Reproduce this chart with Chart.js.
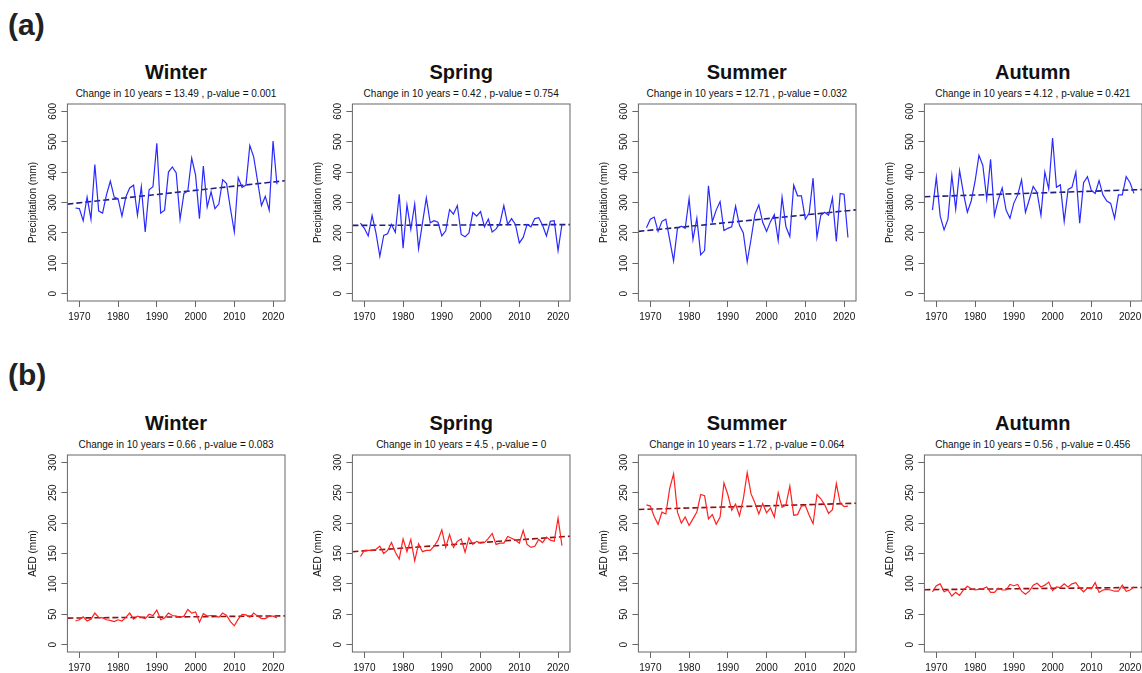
<!DOCTYPE html>
<html>
<head>
<meta charset="utf-8">
<script src="https://cdn.jsdelivr.net/npm/chart.js@4.4.1/dist/chart.umd.min.js"></script>
<style>
html, body { margin: 0; padding: 0; width: 1142px; height: 673px; overflow: hidden; background: #fff; }
body { position: relative; font-family: "Liberation Sans", Arial, sans-serif; color: #111; }
.lbl { position: absolute; font-weight: bold; font-size: 30px; line-height: 34px; color: #222; }
.ttl { position: absolute; text-align: center; font-weight: bold; font-size: 20px; line-height: 24px; }
.sub { position: absolute; text-align: center; font-size: 10px; line-height: 12px; white-space: nowrap; }
canvas { position: absolute; }
</style>
</head>
<body>
<script>
// years and values
const years = [1969, 1970, 1971, 1972, 1973, 1974, 1975, 1976, 1977, 1978, 1979,
  1980, 1981, 1982, 1983, 1984, 1985, 1986, 1987, 1988, 1989,
  1990, 1991, 1992, 1993, 1994, 1995, 1996, 1997, 1998, 1999,
  2000, 2001, 2002, 2003, 2004, 2005, 2006, 2007, 2008, 2009,
  2010, 2011, 2012, 2013, 2014, 2015, 2016, 2017, 2018, 2019,
  2020, 2021];
const seasons = ['Winter', 'Spring', 'Summer', 'Autumn'];

const precipWinter = [282, 280, 240, 318, 245, 425, 272, 265, 325, 370, 318,
  312, 255, 318, 348, 357, 258, 352, 203, 342, 352,
  495, 265, 275, 400, 417, 397, 245, 330, 338, 446,
  390, 247, 420, 285, 335, 280, 295, 375, 362, 280,
  203, 382, 350, 357, 487, 450, 370, 290, 320, 275,
  502, 360];
const precipSpring = [232, 215, 190, 257, 200, 123, 192, 197, 228, 202, 327,
  150, 292, 212, 295, 148, 232, 315, 233, 240, 235,
  190, 207, 277, 262, 290, 195, 187, 200, 267, 255,
  270, 220, 245, 203, 213, 232, 290, 228, 247, 228,
  167, 185, 228, 220, 247, 250, 225, 190, 238, 240,
  142, 228];
const precipSummer = [217, 245, 252, 205, 238, 245, 178, 108, 215, 222, 215,
  313, 178, 248, 128, 142, 355, 237, 275, 303, 208,
  215, 220, 288, 225, 200, 105, 180, 262, 292, 235,
  205, 237, 260, 175, 317, 220, 188, 357, 322, 322,
  245, 265, 380, 185, 258, 268, 258, 315, 172, 330,
  327, 185];
const precipAutumn = [275, 383, 255, 210, 245, 390, 278, 405, 330, 268, 305,
  370, 455, 422, 313, 442, 258, 310, 348, 275, 248,
  298, 325, 375, 268, 310, 353, 333, 258, 400, 345,
  512, 350, 358, 238, 343, 350, 400, 232, 365, 385,
  340, 330, 372, 325, 305, 297, 248, 325, 325, 385,
  365, 330];

const aedWinter = [39, 41, 46, 39, 42, 52, 45, 44, 41, 40, 38,
  41, 39, 45, 52, 42, 47, 45, 43, 50, 48,
  57, 41, 44, 52, 48, 47, 45, 47, 58, 52,
  54, 37, 51, 47, 48, 48, 45, 52, 48, 38,
  31, 42, 50, 49, 45, 52, 47, 43, 43, 47,
  47, 44];
const aedSpring = [145, 155, 155, 155, 157, 162, 150, 155, 168, 152, 141,
  174, 153, 173, 138, 166, 153, 155, 155, 162, 172,
  189, 160, 181, 160, 170, 174, 152, 176, 165, 170,
  167, 168, 175, 183, 165, 167, 167, 178, 175, 172,
  167, 188, 165, 160, 162, 173, 168, 177, 172, 170,
  208, 163];
const aedSummer = [230, 228, 211, 198, 218, 215, 257, 281, 218, 200, 210,
  196, 207, 218, 247, 245, 207, 214, 198, 210, 266,
  247, 221, 231, 212, 240, 283, 248, 233, 215, 232,
  217, 225, 210, 250, 226, 230, 261, 213, 214, 228,
  229, 213, 199, 247, 240, 230, 216, 222, 265, 233,
  227, 228];
const aedAutumn = [87, 97, 100, 87, 90, 80, 86, 81, 90, 96, 92,
  90, 91, 92, 95, 86, 86, 93, 90, 90, 99,
  97, 99, 88, 83, 88, 98, 101, 95, 98, 103,
  89, 95, 94, 100, 95, 100, 102, 93, 87, 93,
  92, 102, 86, 90, 91, 90, 88, 88, 98, 88,
  90, 95];

const precipChange = ['13.49', '0.42', '12.71', '4.12'];
const precipPValue = ['0.001', '0.754', '0.032', '0.421'];
const aedChange = ['0.66', '4.5', '1.72', '0.56'];
const aedPValue = ['0.083', '0', '0.064', '0.456'];

const yearTicks = [1970, 1980, 1990, 2000, 2010, 2020];
const precipTicks = [0, 100, 200, 300, 400, 500, 600];
const aedTicks = [0, 50, 100, 150, 200, 250, 300];

// layout (px)
const FONT = '"Liberation Sans", Arial, sans-serif';
const boxLeft = [67.2, 352.4, 638.0, 924.0];
const boxW = 217.6, boxH = 198.6;
const YW = 40.4, XH = 24, PAD = 4;

const boxPlugin = {
  id: 'box',
  afterDraw(chart) {
    const a = chart.chartArea, g = chart.ctx;
    g.save();
    g.strokeStyle = '#666';
    g.lineWidth = 1;
    g.strokeRect(a.left, a.top, a.right - a.left, a.bottom - a.top);
    g.restore();
  }
};

// R-style 4% range padding
function padRange(lo, hi) {
  const d = (hi - lo) * 0.04;
  return [lo - d, hi + d];
}

function fitLine(xs, ys) {
  const n = xs.length;
  const mx = xs.reduce((s, v) => s + v, 0) / n;
  const my = ys.reduce((s, v) => s + v, 0) / n;
  let sxy = 0, sxx = 0;
  for (let i = 0; i < n; i++) {
    sxy += (xs[i] - mx) * (ys[i] - my);
    sxx += (xs[i] - mx) * (xs[i] - mx);
  }
  const b = sxy / sxx;
  return x => my + b * (x - mx);
}

function addText(cls, text, left, top, width) {
  const d = document.createElement('div');
  d.className = cls;
  d.textContent = text;
  d.style.left = left + 'px';
  d.style.top = top + 'px';
  if (width) d.style.width = width + 'px';
  document.body.appendChild(d);
}

function panel(i, boxTop, values, yTicks, yLabel, change, pval, lineColor, trendColor) {
  const left = boxLeft[i];
  addText('ttl', seasons[i], left - 40, boxTop - 42, boxW + 80);
  addText('sub', 'Change in 10 years = ' + change + ' , p-value = ' + pval, left - 40, boxTop - 14, boxW + 80);

  const cv = document.createElement('canvas');
  const w = Math.round(YW + boxW + PAD), h = Math.round(PAD + boxH + XH);
  cv.width = w; cv.height = h;
  cv.style.width = w + 'px'; cv.style.height = h + 'px';
  cv.style.left = (left - YW) + 'px';
  cv.style.top = (boxTop - PAD) + 'px';
  document.body.appendChild(cv);

  const [xMin, xMax] = padRange(years[0], years[years.length - 1]);
  const [yMin, yMax] = padRange(yTicks[0], yTicks[yTicks.length - 1]);
  const trend = fitLine(years, values);

  new Chart(cv.getContext('2d'), {
    type: 'line',
    data: {
      datasets: [{
        data: values.map((v, k) => ({ x: years[k], y: v })),
        borderColor: lineColor,
        borderWidth: 1.2,
        pointRadius: 0,
        tension: 0
      }, {
        data: [{ x: xMin, y: trend(xMin) }, { x: xMax, y: trend(xMax) }],
        borderColor: trendColor,
        borderWidth: 1.6,
        borderDash: [6, 3],
        pointRadius: 0
      }]
    },
    options: {
      responsive: false,
      animation: false,
      events: [],
      layout: { padding: { top: PAD, right: PAD, left: 0, bottom: 0 } },
      plugins: { legend: { display: false }, tooltip: { enabled: false } },
      scales: {
        x: {
          type: 'linear', min: xMin, max: xMax,
          afterBuildTicks: s => { s.ticks = yearTicks.map(v => ({ value: v })); },
          afterFit: s => { s.height = XH; },
          grid: { drawOnChartArea: false, drawTicks: true, tickLength: 6, color: '#666' },
          border: { display: false },
          ticks: { font: { size: 10, family: FONT }, color: '#111', padding: 4, maxRotation: 0, autoSkip: false, callback: v => String(v) }
        },
        y: {
          type: 'linear', min: yMin, max: yMax,
          afterBuildTicks: s => { s.ticks = yTicks.map(v => ({ value: v })); },
          afterFit: s => { s.width = YW; },
          grid: { drawOnChartArea: false, drawTicks: true, tickLength: 6, color: '#666' },
          border: { display: false },
          ticks: { font: { size: 10, family: FONT }, color: '#111', padding: 0, minRotation: 90, maxRotation: 90, crossAlign: 'center', autoSkip: false, callback: v => String(v) },
          title: { display: true, text: yLabel, font: { size: 10, family: FONT }, color: '#111', padding: 0 }
        }
      }
    },
    plugins: [boxPlugin]
  });
}

addText('lbl', '(a)', 8, 8);
addText('lbl', '(b)', 8, 358);

const precipSeries = [precipWinter, precipSpring, precipSummer, precipAutumn];
const aedSeries = [aedWinter, aedSpring, aedSummer, aedAutumn];
for (let i = 0; i < 4; i++) {
  panel(i, 101.7, precipSeries[i], precipTicks, 'Precipitation (mm)', precipChange[i], precipPValue[i], '#2a2aff', '#20207a');
  panel(i, 452.7, aedSeries[i], aedTicks, 'AED (mm)', aedChange[i], aedPValue[i], '#ff2020', '#8b1010');
}
</script>
</body>
</html>
